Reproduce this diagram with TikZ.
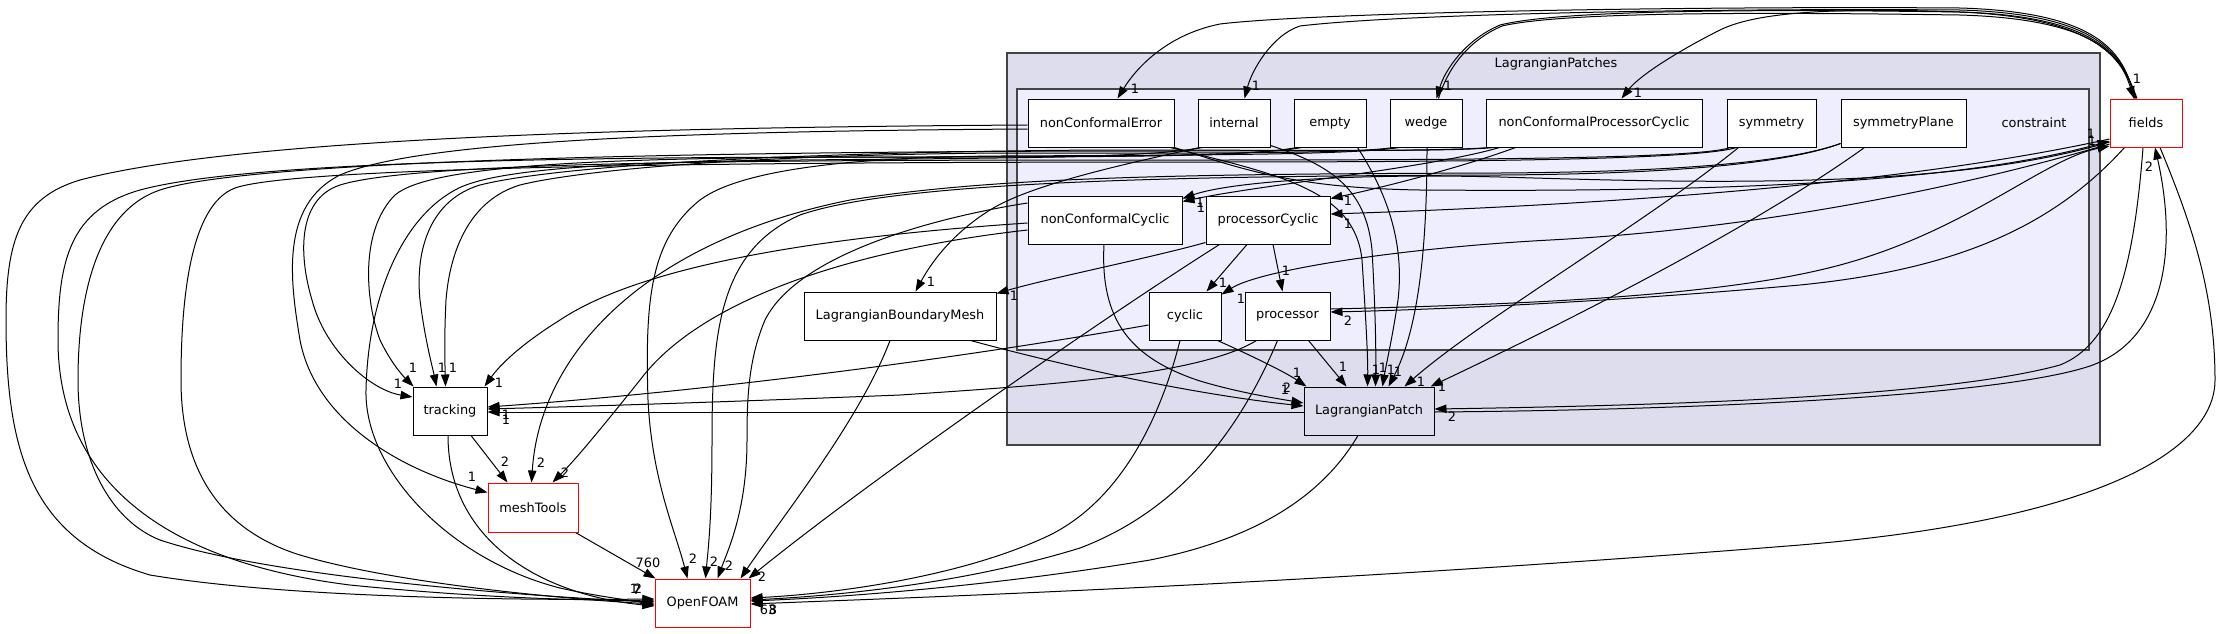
\documentclass[tikz,border=0pt]{standalone}
\usepackage{fontspec}
\setmainfont{DejaVu Sans}
\usetikzlibrary{arrows.meta}
\pgfdeclarelayer{clus}
\pgfdeclarelayer{edges}
\pgfsetlayers{clus,edges,main}
\definecolor{clout}{HTML}{DDDDEE}
\definecolor{clin}{HTML}{EEEEFF}
\definecolor{clbd}{HTML}{444444}
\newcommand\dgf{\fontsize{12.9pt}{15pt}\selectfont}
\begin{document}
\begin{tikzpicture}[x=1pt,y=-1pt,
  box/.style={draw=black,line width=1pt,fill=white,minimum height=48pt,inner sep=0pt,font=\dgf},
  redbox/.style={box,draw=red},
  lab/.style={font=\dgf,inner sep=0pt},
  edg/.style={draw=black,line width=1pt,-{Triangle[length=12pt,width=8.5pt]}},
]
\useasboundingbox (0,0) rectangle (2220,633);
\begin{pgfonlayer}{clus}
\fill[white] (0,0) rectangle (2220,633);
\filldraw[fill=clout,draw=clbd,line width=1.5pt] (1007,53) rectangle (2100,445);
\filldraw[fill=clin,draw=clbd,line width=1.5pt] (1017,89) rectangle (2089,350);
\end{pgfonlayer}

\node[lab] (lpname) at (1556,64) {LagrangianPatches};
\node[box,minimum width=146pt] (nCE) at (1101,123) {nonConformalError};
\node[box,minimum width=72pt] (internal) at (1234,123) {internal};
\node[box,minimum width=72pt] (empty) at (1330,123) {empty};
\node[box,minimum width=72pt] (wedge) at (1426,123) {wedge};
\node[box,minimum width=216pt] (nCPC) at (1594,123) {nonConformalProcessorCyclic};
\node[box,minimum width=89pt] (symm) at (1771.5,123) {symmetry};
\node[box,minimum width=125pt] (symP) at (1903.5,123) {symmetryPlane};
\node[lab] (constr) at (2034,123) {constraint};
\node[redbox,minimum width=72pt] (fields) at (2146,123) {fields};
\node[box,minimum width=154pt] (nCC) at (1105,220) {nonConformalCyclic};
\node[box,minimum width=124pt] (pC) at (1268,220) {processorCyclic};
\node[box,minimum width=72pt] (cyclic) at (1185,316) {cyclic};
\node[box,minimum width=85pt] (proc) at (1287.5,316) {processor};
\node[box,minimum width=192pt] (LBM) at (900,316) {LagrangianBoundaryMesh};
\node[box,fill=clout,minimum width=130pt] (LP) at (1369,411) {LagrangianPatch};
\node[box,minimum width=74pt] (track) at (450,411) {tracking};
\node[redbox,minimum width=90pt,minimum height=49pt] (mesh) at (533,507.5) {meshTools};
\node[redbox,minimum width=95pt] (OF) at (702.5,603) {OpenFOAM};

\begin{pgfonlayer}{edges}
% top arcs
\draw[edg] ([xshift=-12pt]fields.north) .. controls (2125,50) and (2095,12) .. (1960,8) .. controls (1700,6) and (1320,12) .. (1220,24) .. controls (1165,35) and (1135,70) .. ([xshift=90pt]nCE.north west);
\draw[edg] ([xshift=-11pt]fields.north) .. controls (2124,52) and (2095,14) .. (1960,10) .. controls (1700,8) and (1400,14) .. (1300,26) .. controls (1272,35) and (1252,70) .. ([xshift=47pt]internal.north west);
\draw[edg] ([xshift=-10pt]fields.north) .. controls (2123,54) and (2095,16) .. (1960,12) .. controls (1750,9) and (1560,10) .. (1500,25) .. controls (1465,40) and (1445,70) .. ([xshift=47pt]wedge.north west);
\draw[edg] ([xshift=49pt]wedge.north west) .. controls (1447,70) and (1467,41) .. (1502,26) .. controls (1562,12) and (1750,12) .. (1960,15) .. controls (2095,19) and (2120,55) .. ([xshift=-12pt]fields.north);
\draw[edg] ([xshift=-9pt]fields.north) .. controls (2122,56) and (2095,18) .. (1960,12) .. controls (1850,8) and (1760,10) .. (1720,30) .. controls (1680,50) and (1640,75) .. ([xshift=136pt]nCPC.north west);
% fields side
\draw[edg] ([yshift=-19pt]fields.west) .. controls (1950,190) and (1700,183) .. (1500,177) .. controls (1350,173) and (1230,182) .. ([yshift=-3pt]nCC.north east);
\draw[edg] ([xshift=14pt]nCPC.south west) .. controls (1430,168) and (1260,185) .. ([yshift=-6pt]nCC.north east);
\draw[edg] ([xshift=30pt]nCPC.south west) .. controls (1460,168) and (1380,188) .. ([yshift=-3pt]pC.north east);
\draw[edg] ([yshift=-16pt]fields.west) .. controls (1900,185) and (1600,205) .. ([yshift=6pt]pC.east);
\draw[edg] ([yshift=-21pt]fields.west) .. controls (1900,205) and (1700,232) .. (1550,240) .. controls (1400,248) and (1260,270) .. ([yshift=-3pt]cyclic.north east);
\draw[edg] ([xshift=15pt]fields.south west) .. controls (2050,230) and (1950,270) .. (1800,285) .. controls (1600,303) and (1420,310) .. ([yshift=4pt]proc.east);
\draw[edg] ([yshift=7pt]proc.east) .. controls (1500,305) and (1700,298) .. (1820,270) .. controls (1960,238) and (2040,160) .. ([yshift=-23pt]fields.west);
\draw[edg] (nCE.south east) .. controls (1250,172) and (1300,188) .. (1420,190) .. controls (1700,192) and (1950,185) .. ([yshift=-18pt]fields.west);
\draw[edg] ([xshift=-3pt]fields.south) .. controls (2133,280) and (2110,345) .. (2060,365) .. controls (1950,395) and (1700,405) .. ([yshift=2pt]LP.east);
\draw[edg] ([yshift=-1pt]LP.east) .. controls (1700,410) and (2000,396) .. (2090,366) .. controls (2165,340) and (2178,250) .. ([xshift=9pt]fields.south);
\draw[edg] ([xshift=14pt]fields.south) .. controls (2190,220) and (2215,290) .. (2215,380) .. controls (2215,450) and (2100,520) .. (1800,545) .. controls (1300,585) and (900,598) .. ([yshift=-1pt]OF.east);
\draw[edg] ([xshift=-11pt]LP.south) .. controls (1320,500) and (1250,540) .. (1150,560) .. controls (1000,585) and (850,597) .. ([yshift=2pt]OF.east);
\draw[edg] ([xshift=-5pt]cyclic.south) .. controls (1160,420) and (1120,500) .. (1050,535) .. controls (960,578) and (830,594) .. ([yshift=5pt]OF.east);
\draw[edg] ([xshift=-10pt]proc.south) .. controls (1240,430) and (1180,510) .. (1080,548) .. controls (960,585) and (830,596) .. ([yshift=3pt]OF.east);
% inside cluster
\draw[edg] ([xshift=-21pt]pC.south) -- ([xshift=58pt]cyclic.north west);
\draw[edg] ([xshift=5pt]pC.south) -- ([xshift=38pt]proc.north west);
\draw[edg] ([yshift=2pt]pC.south west) .. controls (1150,258) and (1050,278) .. ([yshift=-2pt]LBM.north east);
\draw[edg] ([xshift=2pt]internal.south west) .. controls (1120,165) and (1030,185) .. (990,210) .. controls (950,235) and (930,265) .. ([xshift=112pt]LBM.north west);
\draw[edg] ([xshift=14pt]pC.south west) .. controls (1100,320) and (870,480) .. ([xshift=-2pt]OF.north east);
\draw[edg] ([xshift=-10pt]LBM.south) .. controls (860,420) and (780,520) .. ([xshift=-10pt]OF.north east);
\draw[edg] ([xshift=-26pt]LBM.south east) .. controls (1080,370) and (1200,395) .. ([yshift=5pt]LP.west);
\draw[edg] ([xshift=-1pt]nCC.south) .. controls (1100,320) and (1130,358) .. (1200,381) .. controls (1240,393) and (1280,399) .. ([yshift=8pt]LP.west);
\draw[edg] ([xshift=-4pt]cyclic.south east) .. controls (1250,355) and (1285,372) .. ([xshift=3pt]LP.north west);
\draw[edg] ([xshift=-22pt]proc.south east) -- ([xshift=43pt]LP.north west);
\draw[edg] ([xshift=-4pt]nCE.south east) .. controls (1280,175) and (1355,190) .. (1362,260) .. controls (1366,320) and (1368,360) .. ([xshift=64pt]LP.north west);
\draw[edg] ([yshift=2pt]internal.south east) .. controls (1330,165) and (1366,188) .. (1372,250) .. controls (1376,320) and (1376,360) .. ([xshift=72pt]LP.north west);
\draw[edg] ([xshift=-9pt]empty.south east) .. controls (1385,190) and (1405,240) .. (1398,300) .. controls (1392,340) and (1386,365) .. ([xshift=79pt]LP.north west);
\draw[edg] ([xshift=1pt]wedge.south) .. controls (1427,250) and (1418,330) .. ([xshift=85pt]LP.north west);
\draw[edg] ([xshift=12pt]symm.south west) .. controls (1650,220) and (1480,320) .. ([xshift=101pt]LP.north west);
\draw[edg] ([xshift=24pt]symP.south west) .. controls (1750,230) and (1550,330) .. ([xshift=-4pt]LP.north east);
% to tracking / meshTools / OpenFOAM
\draw[edg] ([yshift=-1pt]LP.west) -- ([yshift=-1pt]track.east);
\draw[edg] ([yshift=-9pt]cyclic.west) .. controls (950,360) and (700,392) .. ([yshift=4pt]track.east);
\draw[edg] ([xshift=12pt]proc.south west) .. controls (1200,375) and (1050,385) .. (900,395) .. controls (700,403) and (560,407) .. ([yshift=2pt]track.east);
\draw[edg] ([yshift=-3pt]nCC.west) .. controls (850,235) and (650,260) .. (560,320) .. controls (520,345) and (500,365) .. ([xshift=-3pt]track.north east);
\draw[edg] ([yshift=-10pt]nCC.west) .. controls (850,250) and (700,300) .. (640,380) .. controls (600,430) and (575,460) .. ([xshift=65pt]mesh.north west);
\draw[edg] ([yshift=17pt]nCC.west) .. controls (950,215) and (800,250) .. (765,320) .. controls (748,360) and (747,400) .. (747,440) .. controls (747,510) and (728,550) .. ([xshift=63pt]OF.north west);
\draw[edg] ([yshift=4pt]symP.south west) .. controls (1780,165) and (1650,172) .. (1500,173) .. controls (1200,174) and (1000,176) .. (850,200) .. controls (650,240) and (540,350) .. ([xshift=44pt]mesh.north west);
\draw[edg] ([yshift=4pt]symP.south west) .. controls (1780,166) and (1650,174) .. (1500,175) .. controls (1200,176) and (900,180) .. (800,215) .. controls (720,250) and (712,330) .. (712,440) .. controls (712,520) and (708,550) .. ([xshift=51pt]OF.north west);
% left bundle
\draw[edg] ([yshift=-2pt]nCE.west) .. controls (700,127) and (250,135) .. (80,180) .. controls (20,198) and (6,240) .. (6,320) .. controls (6,450) and (30,540) .. (150,575) .. controls (300,600) and (550,600) .. ([yshift=4pt]OF.west);
\draw[edg] ([yshift=-6pt]nCE.west) .. controls (700,131) and (420,140) .. (340,175) .. controls (280,205) and (290,280) .. (300,340) .. controls (315,420) and (400,470) .. ([yshift=15pt]mesh.west);
\draw[edg] ([xshift=3pt]empty.south west) .. controls (1250,157) and (1100,157) .. (900,157) .. controls (600,157) and (430,165) .. (395,195) .. controls (360,230) and (365,300) .. (380,340) .. controls (392,365) and (405,378) .. ([xshift=1pt]track.north west);
\draw[edg] ([xshift=8pt]nCPC.south west) .. controls (1450,152) and (1300,150) .. (1100,150) .. controls (800,152) and (560,165) .. (480,185) .. controls (430,200) and (415,250) .. (420,300) .. controls (425,340) and (432,365) .. ([xshift=24pt]track.north west);
\draw[edg] ([xshift=4pt]wedge.south west) .. controls (1350,154) and (1200,153) .. (1000,153) .. controls (750,155) and (580,170) .. (520,185) .. controls (470,200) and (450,250) .. (446,300) .. controls (444,340) and (445,365) .. ([xshift=33pt]track.north west);
\draw[edg] ([xshift=4pt]symm.south west) .. controls (1700,158) and (1500,160) .. (1200,160) .. controls (800,160) and (420,160) .. (340,185) .. controls (295,200) and (300,260) .. (312,300) .. controls (325,350) and (370,390) .. ([yshift=14pt]track.west);
\draw[edg] ([xshift=8pt]empty.south west) .. controls (1260,156) and (1100,157) .. (900,157) .. controls (600,157) and (250,160) .. (140,190) .. controls (70,210) and (58,260) .. (58,340) .. controls (58,470) and (150,560) .. (350,585) .. controls (500,600) and (600,600) .. ([yshift=2pt]OF.west);
\draw[edg] ([xshift=4pt]nCPC.south west) .. controls (1450,151) and (1300,151) .. (1100,151) .. controls (700,152) and (250,160) .. (160,190) .. controls (95,212) and (78,300) .. (78,380) .. controls (78,460) and (110,520) .. (160,540) .. controls (280,580) and (560,598) .. ([yshift=1pt]OF.west);
\draw[edg] ([xshift=10pt]symm.south west) .. controls (1700,159) and (1500,162) .. (1200,162) .. controls (800,162) and (300,165) .. (235,188) .. controls (190,205) and (181,300) .. (181,380) .. controls (181,470) and (220,530) .. (300,555) .. controls (400,585) and (580,600) .. ([yshift=-1pt]OF.west);
\draw[edg] ([xshift=5pt]internal.south west) .. controls (1150,158) and (1000,158) .. (800,160) .. controls (600,162) and (490,170) .. (455,190) .. controls (400,220) and (368,300) .. (366,390) .. controls (364,470) and (450,560) .. (560,588) .. controls (600,597) and (630,600) .. ([yshift=-2pt]OF.west);
\draw[edg] ([xshift=10pt]wedge.south west) .. controls (1350,155) and (1200,155) .. (1000,156) .. controls (850,157) and (740,170) .. (700,200) .. controls (650,240) and (645,300) .. (648,400) .. controls (652,480) and (675,530) .. ([xshift=33pt]OF.north west);
\draw[edg] ([xshift=-2pt]track.south) .. controls (448,540) and (540,595) .. ([yshift=-3pt]OF.west);
\draw[edg] ([xshift=21pt]track.south) -- ([xshift=20pt]mesh.north west);
\draw[edg] ([xshift=-3pt]mesh.south east) -- ([xshift=1pt]OF.north west);
\end{pgfonlayer}

% edge labels
\node[lab] (l1) at (1135,89) {1};
\node[lab] (l2) at (1256,86) {1};
\node[lab] (l3) at (1448,86) {1};
\node[lab] (l4) at (1638,93) {1};
\node[lab] (l5) at (2137,79) {1};
\node[lab] (l6) at (2091,134) {1};
\node[lab] (l7) at (2092,141) {1};
\node[lab] (l8) at (2149,167) {2};
\node[lab] (l9) at (1200,203) {1};
\node[lab] (l10) at (1201,208) {1};
\node[lab] (l11) at (1348,201) {1};
\node[lab] (l12) at (1348,224) {1};
\node[lab] (l13) at (1223,283) {1};
\node[lab] (l14) at (1241,299) {1};
\node[lab] (l15) at (1286,271) {1};
\node[lab] (l16) at (1348,321) {2};
\node[lab] (l17) at (1014,296) {1};
\node[lab] (l18) at (931,282) {1};
\node[lab] (l19) at (1297,373) {1};
\node[lab] (l20) at (1343,367) {1};
\node[lab] (l21) at (1287,388) {2};
\node[lab] (l22) at (1285,390) {1};
\node[lab] (l23) at (1376,370) {1};
\node[lab] (l24) at (1383,368) {1};
\node[lab] (l25) at (1391,370) {1};
\node[lab] (l26) at (1398,372) {1};
\node[lab] (l27) at (1421,382) {1};
\node[lab] (l28) at (1442,387) {1};
\node[lab] (l29) at (1452,417) {2};
\node[lab] (l30) at (506,415) {1};
\node[lab] (l31) at (506,420) {1};
\node[lab] (l32) at (499,383) {1};
\node[lab] (l33) at (413,368) {1};
\node[lab] (l34) at (442,368) {1};
\node[lab] (l35) at (453,368) {1};
\node[lab] (l36) at (398,384) {1};
\node[lab] (l37) at (505,462) {2};
\node[lab] (l38) at (541,463) {2};
\node[lab] (l39) at (565,473) {2};
\node[lab] (l40) at (472,477) {1};
\node[lab] (l41) at (648,563) {760};
\node[lab] (l42) at (693,559) {2};
\node[lab] (l43) at (714,562) {2};
\node[lab] (l44) at (729,566) {2};
\node[lab] (l45) at (762,577) {2};
\node[lab] (l46) at (634,589) {1};
\node[lab] (l47) at (638,589) {2};
\node[lab] (l48) at (637,590) {7};
\node[lab] (l49) at (768,610) {63};
\node[lab] (l50) at (773,610) {8};
\end{tikzpicture}
\end{document}
